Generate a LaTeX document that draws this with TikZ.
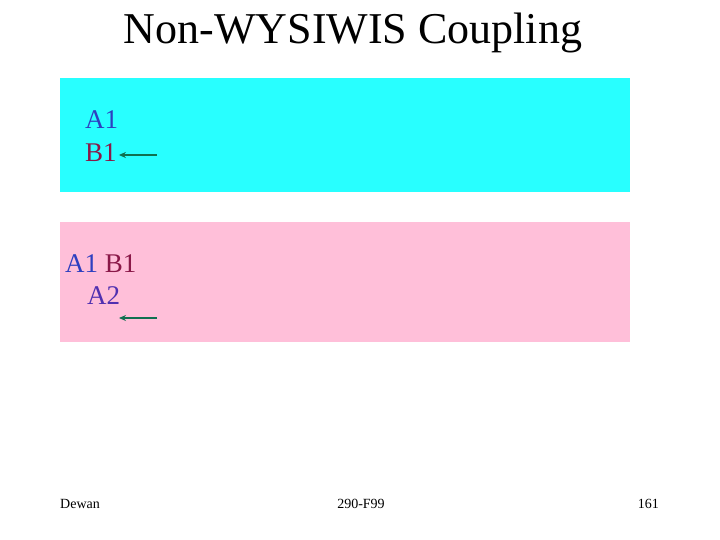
\documentclass[tikz,border=0pt]{standalone}
\usetikzlibrary{arrows.meta}
\usepackage{fontspec}
\setmainfont{Liberation Serif}
\definecolor{boxcyan}{HTML}{28FFFF}
\definecolor{boxpink}{HTML}{FFBFD9}
\definecolor{txtblue}{HTML}{2E3FC0}
\definecolor{txtmaroon}{HTML}{8A1848}
\definecolor{txtpurple}{HTML}{5030B0}
\definecolor{arrgreen}{HTML}{107050}
\begin{document}
\begin{tikzpicture}[x=1pt,y=-1pt,
  lbl/.style={inner sep=0pt,anchor=base west,font=\fontsize{27}{27}\selectfont},
  foot/.style={inner sep=0pt,anchor=base,font=\fontsize{14}{14}\selectfont},
  ptr/.style={draw=arrgreen,line width=1.8pt,-{Stealth[length=7pt,width=6pt]}}]
\useasboundingbox (0,0) rectangle (720,540);
\fill[boxcyan] (60,78) rectangle (630,192);
\fill[boxpink] (60,222) rectangle (630,342);
\node[inner sep=0pt,anchor=base,font=\fontsize{44}{44}\selectfont] (title) at (353,44) {Non-WYSIWIS Coupling};
\node[lbl,text=txtblue] (a1) at (85,129) {A1};
\node[lbl,text=txtmaroon] (b1) at (85,162) {B1};
\coordinate (e1) at (157,155);
\draw[ptr] (e1) -- ([xshift=2pt]b1.east |- e1);
\node[lbl] (ab) at (65,272) {\textcolor{txtblue}{A1} \textcolor{txtmaroon}{B1}};
\node[lbl,text=txtpurple] (a2) at (87,304) {A2};
\coordinate (e2) at (157,318);
\coordinate (e3) at (119,318);
\draw[ptr] (e2) -- (e3);
\node[foot,anchor=base west] (dewan) at (60,508) {Dewan};
\node[foot] (code) at (361,508) {290-F99};
\node[foot,anchor=base east] (page) at (659,508) {161};
\end{tikzpicture}
\end{document}
